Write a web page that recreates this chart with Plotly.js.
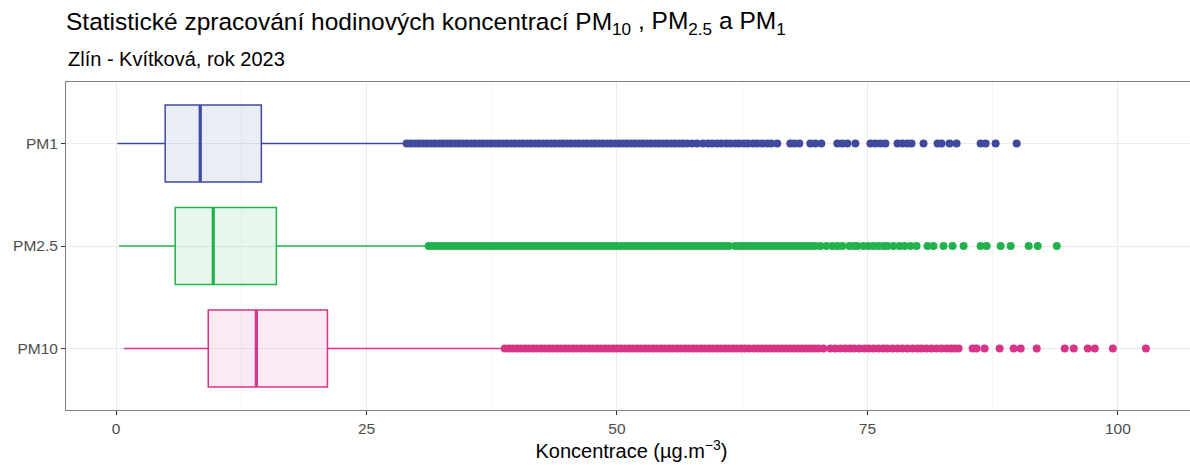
<!DOCTYPE html>
<html>
<head>
<meta charset="utf-8">
<script src="https://cdn.plot.ly/plotly-3.0.1.min.js"></script>
<style>html,body{margin:0;padding:0;overflow:hidden;background:#fff}</style>
</head>
<body>
<div id="chart"></div>
<script>
// Categories (bottom to top)
const categories = ["PM10", "PM2.5", "PM1"];
const colors = ["#D63487", "#22B24C", "#3F4A9E"];
const fills = ["rgba(214,52,135,0.1)", "rgba(34,178,76,0.1)", "rgba(63,74,158,0.1)"];

// Box statistics (µg.m-3)
const lowerFence = [0.8, 0.3, 0.13];
const q1 = [9.2, 5.9, 4.9];
const median = [14.0, 9.7, 8.4];
const q3 = [21.1, 16.0, 14.5];
const upperFence = [38.7, 31.0, 28.7];

// Outliers
const outPM10 = [38.8,39.2,39.6,40.0,40.4,40.8,41.2,41.6,42.0,42.4,42.8,43.2,43.6,44.0,44.4,44.8,45.2,45.6,46.0,46.4,46.8,47.2,47.6,48.0,48.4,48.8,49.2,49.6,50.0,50.4,50.8,51.2,51.6,52.0,52.4,52.8,53.2,53.6,54.0,54.4,54.8,55.2,55.6,56.0,56.4,56.8,57.2,57.6,58.0,58.4,58.8,59.2,59.6,60.0,60.4,60.8,61.2,61.6,62.0,62.4,62.8,63.2,63.7,
  64.1,64.5,64.9,65.3,65.7,66.1,66.5,66.9,67.3,67.7,68.1,68.5,68.9,69.3,69.7,70.1,70.6,71.3,71.8,72.3,72.8,73.3,73.7,74.2,74.7,75.1,75.6,76.1,76.6,77.0,77.5,78.0,78.5,79.0,79.5,80.0,80.4,80.9,81.4,81.9,82.4,82.9,83.3,83.7,84.1,85.5,85.9,86.7,88.2,89.6,90.3,91.9,94.7,95.6,97.0,97.7,99.5,102.8];
const outPM25 = [31.2,31.6,32.0,32.4,32.8,33.2,33.6,34.0,34.4,34.8,35.2,35.6,36.0,36.4,36.8,37.2,37.6,38.0,38.4,38.8,39.2,39.6,40.0,40.4,40.8,41.2,41.6,42.0,42.4,42.8,43.2,43.6,44.0,44.4,44.8,45.2,45.6,46.0,46.4,46.8,47.2,47.6,48.0,48.4,48.8,49.2,49.6,50.0,50.4,50.8,51.2,51.6,52.0,52.4,52.8,53.2,53.6,54.0,54.4,54.8,55.2,55.6,56.0,56.4,56.8,57.2,57.6,58.0,58.4,58.8,59.2,59.6,60.0,60.4,60.8,61.2,
  61.8,62.2,62.6,63.0,63.4,63.8,64.2,64.6,65.0,65.4,65.8,66.2,66.6,67.0,67.4,67.8,68.2,68.6,69.0,69.4,69.8,70.3,70.9,71.5,72.0,72.5,73.2,73.7,74.0,74.6,75.1,75.6,76.1,76.6,77.0,77.6,78.2,78.7,79.3,79.9,81.0,81.6,82.6,83.5,84.6,86.3,86.9,88.3,89.3,91.1,92.0,93.9];
const outPM1 = [29.0,29.4,29.8,30.2,30.6,31.0,31.4,31.8,32.2,32.6,33.0,33.4,33.8,34.2,34.6,35.0,35.4,35.8,36.2,36.6,37.0,37.4,37.8,38.2,38.6,39.0,39.4,39.8,40.2,40.6,41.0,41.4,41.8,42.2,42.6,43.0,43.4,43.8,44.2,44.6,45.0,45.4,45.8,46.2,46.6,47.0,47.4,47.8,48.2,48.6,49.0,49.4,49.8,50.2,50.6,51.0,51.4,51.8,52.2,52.6,53.0,53.4,53.8,54.2,54.6,55.0,55.4,55.8,56.2,56.6,57.0,
  57.5,58.0,58.6,59.1,59.5,60.0,60.4,60.9,61.3,61.8,62.2,62.7,63.1,63.6,64.0,64.5,65.0,65.4,66.0,67.3,67.7,68.2,69.3,69.8,70.4,72.0,72.5,73.0,73.8,75.3,75.8,76.3,76.8,78.0,78.5,79.0,79.4,80.6,82.0,82.4,83.2,83.9,86.3,86.8,87.8,89.9];
const outliers = [outPM10, outPM25, outPM1];

// X axis ticks
const xTickVals = [0, 25, 50, 75, 100];
const xTickText = ["0", "25", "50", "75", "100"];

const titleText = "Statistické zpracování hodinových koncentrací PM<sub>10</sub> , PM<sub>2.5</sub> a PM<sub>1</sub>";
const subtitleText = "Zlín - Kvítková, rok 2023";

const boxWidth = 0.75;
const traces = [];
categories.forEach((cat, i) => {
  traces.push({
    type: "box", orientation: "h",
    y: [i], q1: [q1[i]], median: [median[i]], q3: [q3[i]],
    lowerfence: [lowerFence[i]], upperfence: [upperFence[i]],
    width: boxWidth, whiskerwidth: 0, boxpoints: false,
    line: {color: colors[i], width: 1.5}, fillcolor: fills[i],
    hoverinfo: "skip", showlegend: false
  });
  traces.push({
    type: "scatter", mode: "lines",
    x: [median[i], median[i]], y: [i - boxWidth / 2, i + boxWidth / 2],
    line: {color: colors[i], width: 3.2}, hoverinfo: "skip", showlegend: false
  });
  traces.push({
    type: "scatter", mode: "markers",
    x: outliers[i], y: outliers[i].map(() => i),
    marker: {color: colors[i], size: 8, line: {width: 0}},
    hoverinfo: "skip", showlegend: false
  });
});

const layout = {
  width: 1198, height: 465,
  margin: {l: 66, r: 1, t: 82, b: 55},
  paper_bgcolor: "#fff", plot_bgcolor: "#fff",
  font: {family: "Liberation Sans, Arial, sans-serif", color: "#000"},
  title: {
    text: titleText,
    font: {size: 24.5, color: "#000"},
    x: 66 / 1198, xref: "container", xanchor: "left",
    y: 0.955, yref: "container", yanchor: "middle"
  },
  annotations: [{
    text: subtitleText, showarrow: false,
    xref: "paper", yref: "paper", x: 0, y: 1.07,
    xanchor: "left", yanchor: "middle",
    font: {size: 20, color: "#000"}
  }],
  xaxis: {
    range: [-5.0, 107.9], zeroline: false,
    tickvals: xTickVals, ticktext: xTickText,
    tickfont: {size: 15.5, color: "#4D4D4D"},
    ticks: "outside", ticklen: 4, tickcolor: "#333", tickwidth: 1,
    showgrid: true, gridcolor: "#EBEBEB", gridwidth: 1,
    minor: {dtick: 12.5, tick0: 0, showgrid: true, gridcolor: "#F4F4F4", gridwidth: 1, ticks: ""},
    showline: true, linecolor: "#7F7F7F", linewidth: 1, mirror: true,
    title: {text: "Koncentrace (µg.m<sup>−3</sup>)", font: {size: 20, color: "#000"}, standoff: 6}
  },
  yaxis: {
    range: [-0.6, 2.6], zeroline: false,
    tickvals: [0, 1, 2], ticktext: categories,
    tickfont: {size: 15.5, color: "#4D4D4D"},
    ticks: "outside", ticklen: 4, tickcolor: "#333", tickwidth: 1,
    showgrid: true, gridcolor: "#EBEBEB", gridwidth: 1,
    showline: true, linecolor: "#7F7F7F", linewidth: 1, mirror: true
  }
};

Plotly.newPlot("chart", traces, layout, {displayModeBar: false, staticPlot: true});
</script>
</body>
</html>
